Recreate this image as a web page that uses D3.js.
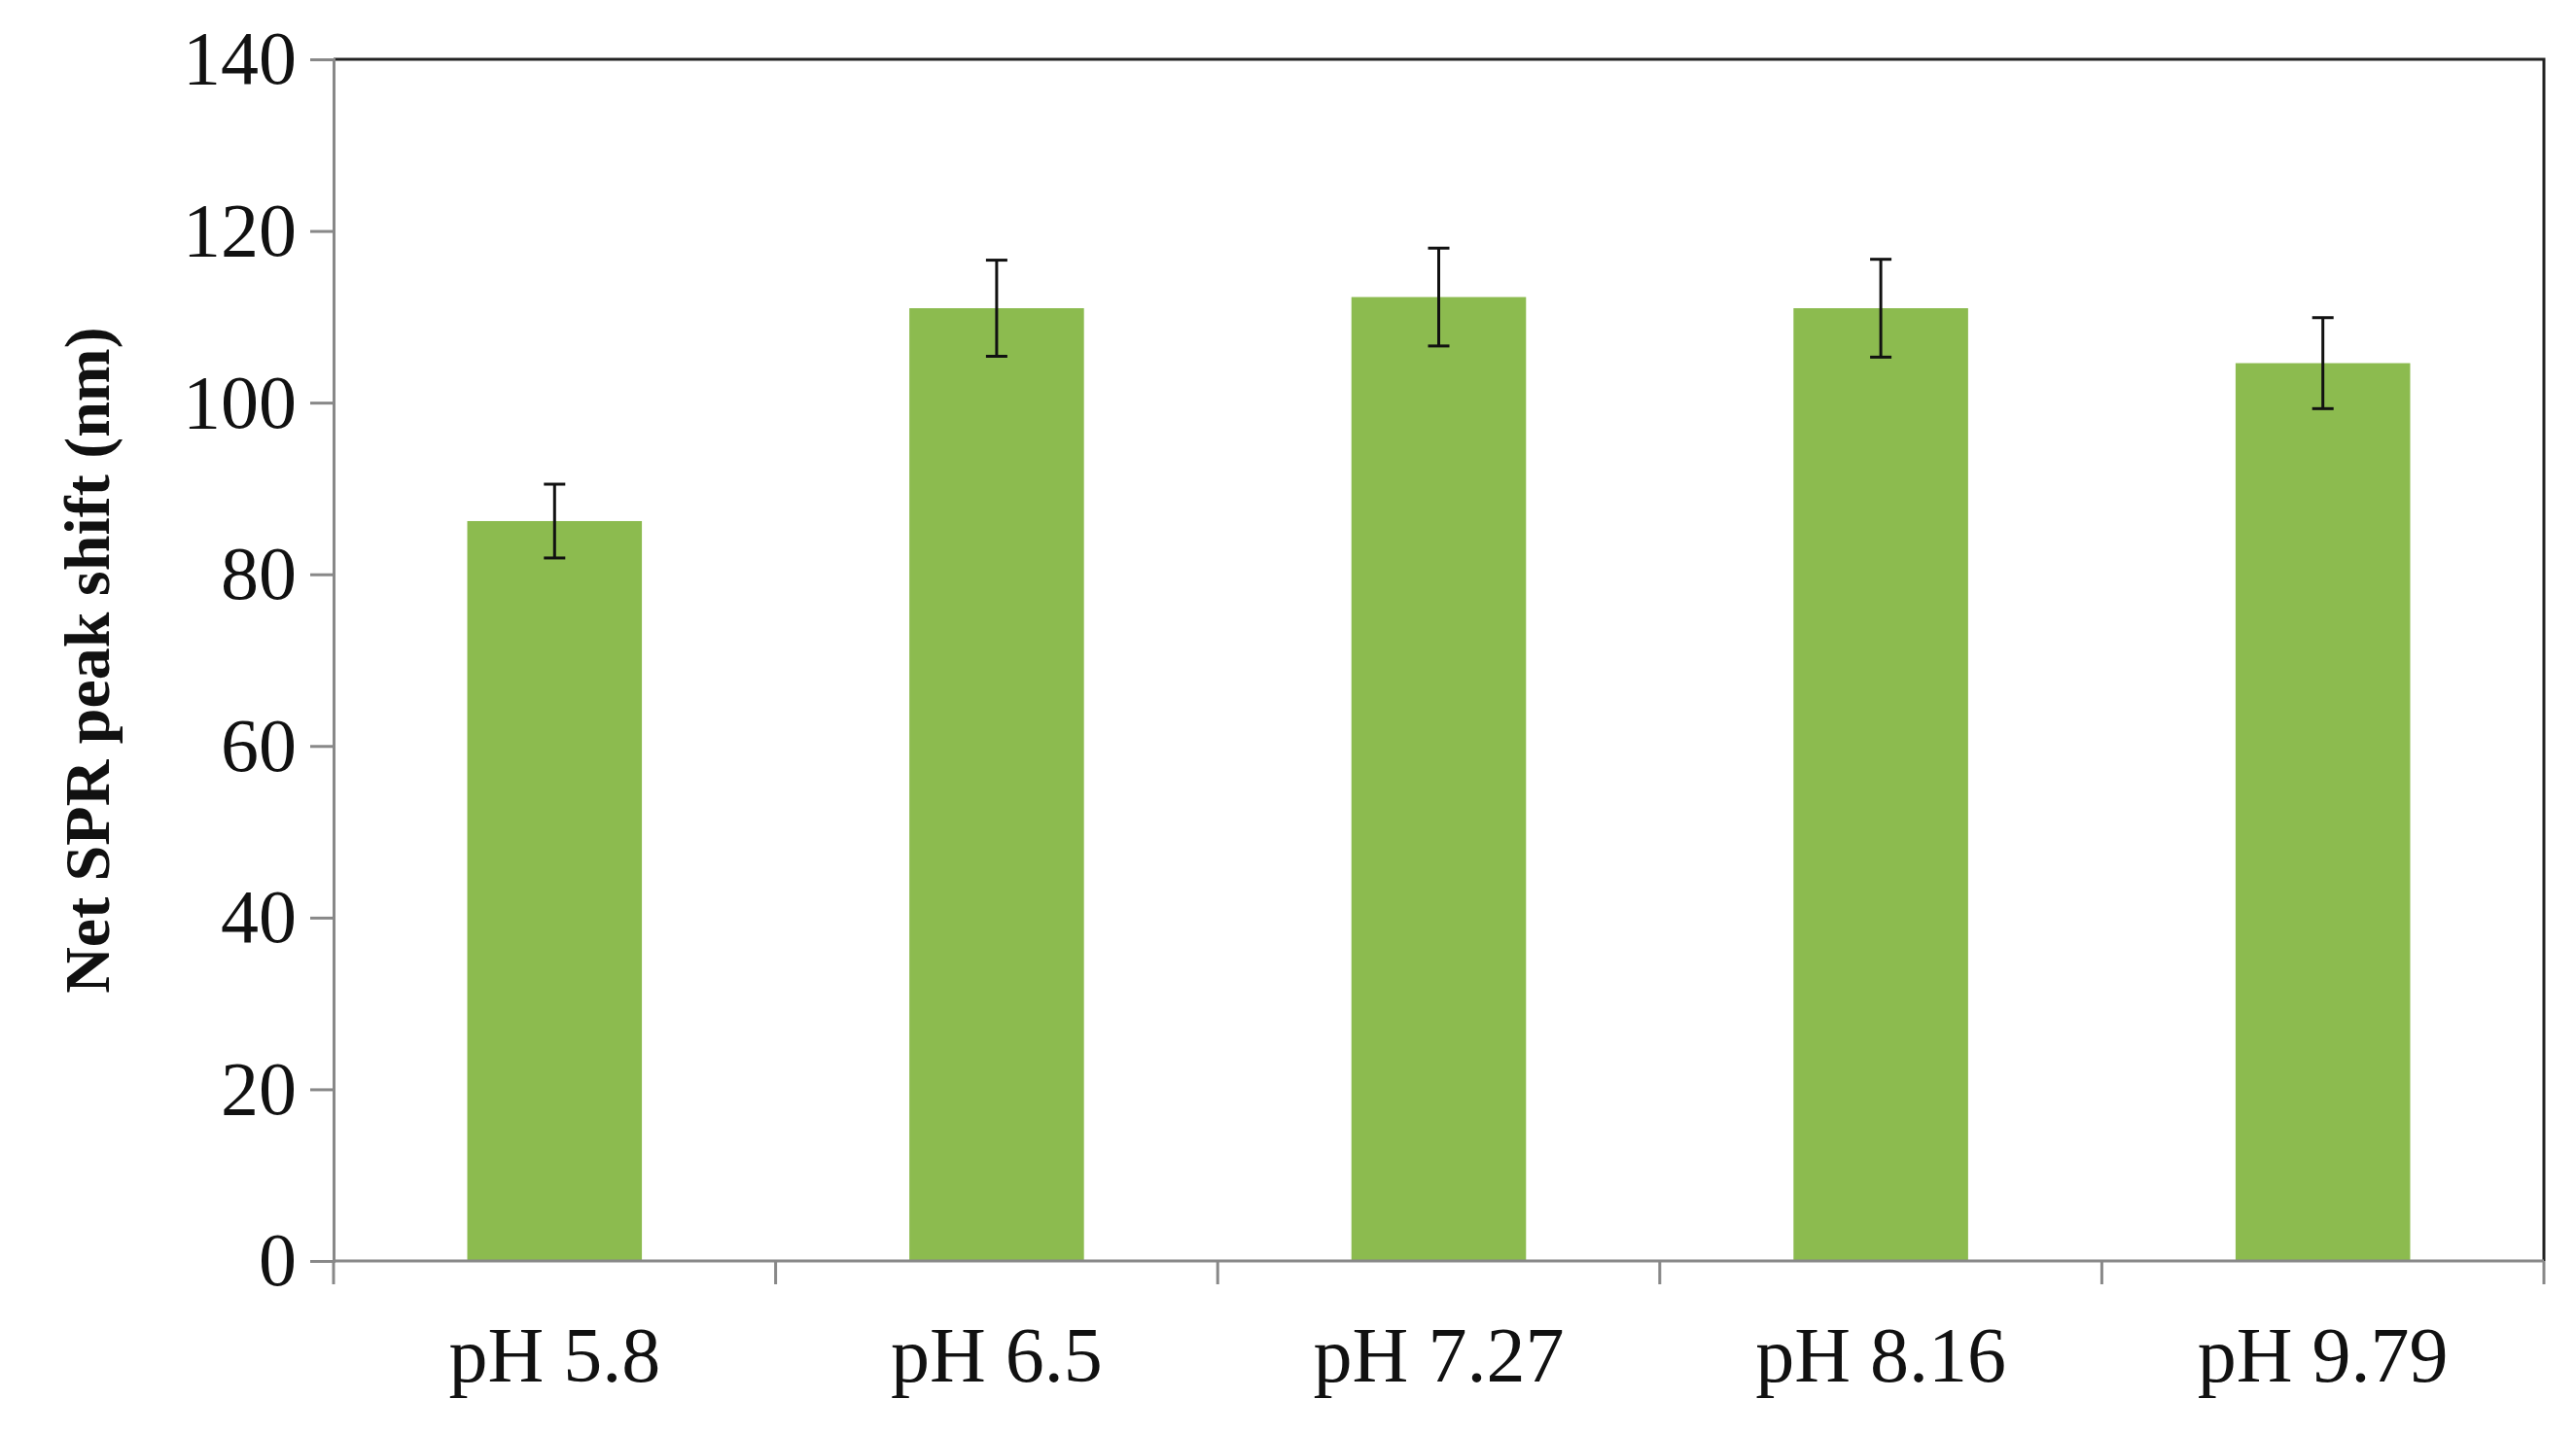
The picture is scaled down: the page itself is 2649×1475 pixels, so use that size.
<!DOCTYPE html>
<html><head><meta charset="utf-8">
<script src="https://cdn.jsdelivr.net/npm/d3@7"></script>
<style>body{margin:0;background:#fff}svg{display:block}</style>
</head><body><svg width="2649" height="1475"></svg>
<script>
var categories = ['pH 5.8', 'pH 6.5', 'pH 7.27', 'pH 8.16', 'pH 9.79'];
var values = [86.2, 111.0, 112.3, 111.0, 104.6];
var errors = [4.3, 5.6, 5.7, 5.7, 5.3];
var yTicks = [0, 20, 40, 60, 80, 100, 120, 140];

var svg = d3.select('svg');
var mLeft = 343, mRight = 2616, mTop = 61, mBottom = 1297;
var font = 'Liberation Serif, Times New Roman, serif';

var x = d3.scaleBand().domain(categories).range([mLeft, mRight]).paddingInner(0).paddingOuter(0);
var y = d3.scaleLinear().domain([0, 140]).range([mBottom, mTop]);
var barW = x.bandwidth() * 0.395;

// frame top/right
svg.append('path')
    .attr('d', `M${mLeft},${mTop}H${mRight}V${mBottom}`)
    .attr('fill', 'none').attr('stroke', '#222').attr('stroke-width', 3);

// bars
svg.selectAll('rect.bar').data(values).enter().append('rect')
    .attr('x', (d,i) => x(categories[i]) + (x.bandwidth() - barW)/2)
    .attr('y', d => y(d))
    .attr('width', barW)
    .attr('height', d => mBottom - y(d))
    .attr('fill', '#8cbb4f');

// error bars
var eb = svg.selectAll('g.err').data(values).enter().append('g')
    .attr('transform', (d,i) => `translate(${x(categories[i]) + x.bandwidth()/2},0)`)
    .attr('stroke', '#111').attr('stroke-width', 3);
eb.append('line').attr('y1', (d,i) => y(d + errors[i])).attr('y2', (d,i) => y(d - errors[i]));
eb.append('line').attr('x1', -11).attr('x2', 11).attr('y1', (d,i) => y(d + errors[i])).attr('y2', (d,i) => y(d + errors[i]));
eb.append('line').attr('x1', -11).attr('x2', 11).attr('y1', (d,i) => y(d - errors[i])).attr('y2', (d,i) => y(d - errors[i]));

// y axis
var ya = svg.append('g').attr('transform', `translate(${mLeft},0)`)
    .call(d3.axisLeft(y).tickValues(yTicks).tickSize(24).tickPadding(14));
ya.selectAll('line,path').attr('stroke', '#888').attr('stroke-width', 3);
ya.selectAll('text').attr('font-family', font).attr('font-size', 78).attr('fill', '#111');

// x axis: ticks at category boundaries
var xa = svg.append('g').attr('transform', `translate(0,${mBottom})`);
xa.append('line').attr('x1', mLeft).attr('x2', mRight).attr('stroke', '#888').attr('stroke-width', 3);
var bounds = categories.map(c => x(c)).concat([mRight]);
xa.selectAll('line.t').data(bounds).enter().append('line')
    .attr('x1', d => d).attr('x2', d => d).attr('y1', 0).attr('y2', 24)
    .attr('stroke', '#888').attr('stroke-width', 3);
xa.selectAll('text').data(categories).enter().append('text')
    .attr('x', d => x(d) + x.bandwidth()/2).attr('y', 124)
    .attr('text-anchor', 'middle').attr('font-family', font).attr('font-size', 80).attr('fill', '#111')
    .text(d => d);

// y label
svg.append('text')
    .attr('transform', `translate(112,${(mTop + mBottom)/2}) rotate(-90)`)
    .attr('text-anchor', 'middle').attr('font-family', font).attr('font-weight', 'bold')
    .attr('font-size', 66).attr('fill', '#111')
    .text('Net SPR peak shift  (nm)');
</script></body></html>
